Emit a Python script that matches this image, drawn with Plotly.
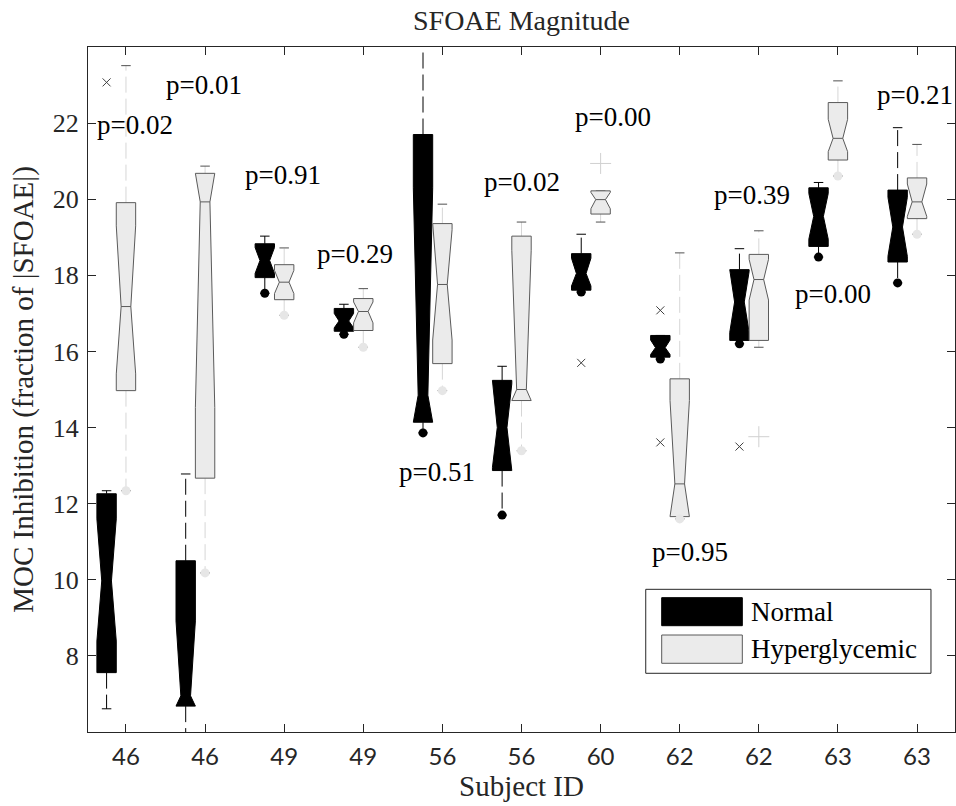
import plotly.graph_objects as go

# ---------------- data ----------------
subject_ids = ["46", "46", "49", "49", "56", "56", "60", "62", "62", "63", "63"]
positions = list(range(1, 12))

# Normal (black boxes)
normal_q1 = [7.56, 6.68, 17.94, 16.53, 14.14, 12.87, 17.61, 15.85, 16.29, 18.76, 18.35]
normal_med = [9.97, 6.95, 18.39, 16.80, 14.85, 14.00, 18.05, 16.10, 17.30, 19.55, 19.27]
normal_q3 = [12.26, 10.50, 18.83, 17.13, 21.70, 15.24, 18.57, 16.42, 18.15, 20.30, 20.24]
normal_notch_lo = [8.39, 6.68, 18.05, 16.62, 14.14, 12.95, 17.72, 15.92, 16.50, 18.95, 18.50]
normal_notch_hi = [11.60, 8.92, 18.73, 17.00, 20.30, 15.15, 18.45, 16.30, 18.10, 20.15, 20.05]
normal_whisk_lo = [6.61, 5.98, 17.53, 16.45, 13.86, 11.70, 17.56, 15.80, 16.20, 18.48, 17.80]
normal_whisk_hi = [12.34, 12.78, 19.03, 17.24, 24.60, 15.61, 19.08, 16.42, 18.70, 20.44, 21.88]
normal_dots = [None, 5.98, 17.53, 16.45, 13.86, 11.70, 17.56, 15.80, 16.20, 18.48, 17.80]
normal_outlier_pos = [1, 7, 8, 8, 9]
normal_outlier_val = [23.07, 15.70, 17.08, 13.61, 13.50]

# Hyperglycemic (light grey boxes)
hyper_q1 = [14.97, 12.67, 17.36, 16.55, 15.68, 14.71, 19.61, 11.66, 16.29, 21.03, 19.49]
hyper_med = [17.18, 19.93, 17.82, 17.05, 17.76, 15.00, 19.99, 12.52, 17.89, 21.60, 19.93]
hyper_q3 = [19.91, 20.68, 18.28, 17.39, 19.36, 19.03, 20.22, 15.28, 18.55, 22.54, 20.56]
hyper_notch_lo = [15.41, 14.53, 17.52, 16.75, 16.30, 14.71, 19.75, 11.66, 17.35, 21.25, 19.55]
hyper_notch_hi = [19.30, 20.68, 18.13, 17.30, 19.20, 18.66, 20.18, 14.71, 18.42, 22.10, 20.40]
hyper_whisk_lo = [12.34, 10.18, 16.95, 16.11, 14.97, 13.39, 19.40, 11.60, 16.11, 20.61, 19.08]
hyper_whisk_hi = [23.51, 20.87, 18.72, 17.65, 19.87, 19.40, 20.22, 18.59, 19.17, 23.11, 21.44]
hyper_dots = [12.34, 10.18, 16.95, 16.11, 14.97, 13.39, None, 11.60, None, 20.61, 19.08]
hyper_outlier_pos = [7, 9]
hyper_outlier_val = [20.94, 13.76]

# p-value labels
pval_text = ["p=0.02", "p=0.01", "p=0.91", "p=0.29", "p=0.51", "p=0.02",
             "p=0.00", "p=0.95", "p=0.39", "p=0.00", "p=0.21"]
pval_y = [21.95, 23.0, 20.63, 18.57, 12.82, 20.46, 22.17, 10.72, 20.1, 17.5, 22.74]
pval_x = [1.11, 1.99, 2.98, 3.90, 4.93, 6.0, 7.16, 8.13, 8.92, 9.94, 10.98]

# ---------------- style ----------------
SERIF = "Liberation Serif"
BOX_W = 0.245
NORMAL_OFFSET = -0.245
CAP_HW = 0.06
DARK = "#262626"
FIG_W, FIG_H = 956, 806

normal_x = [p + NORMAL_OFFSET for p in positions]
hyper_x = list(positions)


def box_polygons(centers, q1, nlo, med, nhi, q3):
    h, hn = BOX_W / 2, BOX_W / 4
    xs, ys = [], []
    for c, a, b, m, d, e in zip(centers, q1, nlo, med, nhi, q3):
        xs += [c - h, c - h, c - hn, c - h, c - h, c + h, c + h, c + hn, c + h, c + h, c - h, None]
        ys += [a, b, m, d, e, e, d, m, b, a, a, None]
    return xs, ys


def whisker_lines(centers, q1, q3, wlo, whi):
    xs, ys = [], []
    for c, a, e, lo, hi in zip(centers, q1, q3, wlo, whi):
        xs += [c, c, None, c, c, None]
        ys += [a, lo, None, e, hi, None]
    return xs, ys


def cap_lines(centers, wlo, whi):
    xs, ys = [], []
    for c, lo, hi in zip(centers, wlo, whi):
        xs += [c - CAP_HW, c + CAP_HW, None, c - CAP_HW, c + CAP_HW, None]
        ys += [lo, lo, None, hi, hi, None]
    return xs, ys


def median_lines(centers, med):
    hn = BOX_W / 4
    xs, ys = [], []
    for c, m in zip(centers, med):
        xs += [c - hn, c + hn, None]
        ys += [m, m, None]
    return xs, ys


fig = go.Figure()

# whiskers (dashed)
wx, wy = whisker_lines(hyper_x, hyper_q1, hyper_q3, hyper_whisk_lo, hyper_whisk_hi)
fig.add_trace(go.Scatter(x=wx, y=wy, mode="lines", name="Hyperglycemic whiskers",
                         line=dict(color="#d6d6d6", width=1, dash="16px,6px"),
                         showlegend=False, hoverinfo="skip"))
wx, wy = whisker_lines(normal_x, normal_q1, normal_q3, normal_whisk_lo, normal_whisk_hi)
fig.add_trace(go.Scatter(x=wx, y=wy, mode="lines", name="Normal whiskers",
                         line=dict(color="black", width=1, dash="16px,6px"),
                         showlegend=False, hoverinfo="skip"))

# caps
cx, cy = cap_lines(hyper_x, hyper_whisk_lo, hyper_whisk_hi)
fig.add_trace(go.Scatter(x=cx, y=cy, mode="lines", line=dict(color="#505050", width=1),
                         showlegend=False, hoverinfo="skip"))
cx, cy = cap_lines(normal_x, normal_whisk_lo, normal_whisk_hi)
fig.add_trace(go.Scatter(x=cx, y=cy, mode="lines", line=dict(color="black", width=1),
                         showlegend=False, hoverinfo="skip"))

# boxes
bx, by = box_polygons(normal_x, normal_q1, normal_notch_lo, normal_med, normal_notch_hi, normal_q3)
fig.add_trace(go.Scatter(x=bx, y=by, mode="lines", fill="toself", fillcolor="black",
                         line=dict(color="black", width=1), name="Normal", showlegend=False))
bx, by = box_polygons(hyper_x, hyper_q1, hyper_notch_lo, hyper_med, hyper_notch_hi, hyper_q3)
fig.add_trace(go.Scatter(x=bx, y=by, mode="lines", fill="toself", fillcolor="#ebebeb",
                         line=dict(color="#5a5a5a", width=1), name="Hyperglycemic", showlegend=False))

# medians
mx, my = median_lines(hyper_x, hyper_med)
fig.add_trace(go.Scatter(x=mx, y=my, mode="lines", line=dict(color="#5a5a5a", width=1),
                         showlegend=False, hoverinfo="skip"))

# dots
fig.add_trace(go.Scatter(x=hyper_x, y=hyper_dots, mode="markers", cliponaxis=False,
                         marker=dict(color="#e6e6e6", size=9), showlegend=False))
fig.add_trace(go.Scatter(x=normal_x, y=normal_dots, mode="markers", cliponaxis=False,
                         marker=dict(color="black", size=9), showlegend=False))

# outliers
fig.add_trace(go.Scatter(x=[p + NORMAL_OFFSET for p in normal_outlier_pos], y=normal_outlier_val,
                         mode="markers", marker=dict(symbol="x-thin", size=8,
                                                     line=dict(color="#404040", width=1)),
                         showlegend=False))
fig.add_trace(go.Scatter(x=hyper_outlier_pos, y=hyper_outlier_val,
                         mode="markers", marker=dict(symbol="cross-thin", size=15,
                                                     line=dict(color="#d0d0d0", width=1)),
                         showlegend=False))

# p-value annotations
annotations = []
for t, xv, yv in zip(pval_text, pval_x, pval_y):
    annotations.append(dict(x=xv, y=yv, xref="x", yref="y", text=t, showarrow=False,
                            xanchor="center", yanchor="middle",
                            font=dict(family=SERIF, size=27, color="black")))

# legend (drawn)
shapes = [
    dict(type="rect", xref="paper", yref="paper", x0=0.6433, x1=0.9723, y0=0.0857, y1=0.2083,
         line=dict(color=DARK, width=1), fillcolor="white", layer="above"),
    dict(type="rect", xref="paper", yref="paper", x0=0.6617, x1=0.7547, y0=0.1552, y1=0.1961,
         line=dict(color="black", width=1), fillcolor="black", layer="above"),
    dict(type="rect", xref="paper", yref="paper", x0=0.6617, x1=0.7547, y0=0.1003, y1=0.1416,
         line=dict(color="#5a5a5a", width=1), fillcolor="#ebebeb", layer="above"),
]
annotations += [
    dict(x=0.7624, y=0.1756, xref="paper", yref="paper", text="Normal", showarrow=False,
         xanchor="left", yanchor="middle", font=dict(family=SERIF, size=27, color="black")),
    dict(x=0.7624, y=0.1212, xref="paper", yref="paper", text="Hyperglycemic", showarrow=False,
         xanchor="left", yanchor="middle", font=dict(family=SERIF, size=27, color="black")),
]

fig.update_layout(
    width=FIG_W, height=FIG_H,
    margin=dict(l=88, r=1, t=47, b=74, autoexpand=False),
    paper_bgcolor="white", plot_bgcolor="white",
    title=dict(text="SFOAE Magnitude", x=0.5, xref="paper", xanchor="center",
               y=1 - 20 / FIG_H, yanchor="middle",
               font=dict(family=SERIF, size=28, color=DARK)),
    shapes=shapes,
    annotations=annotations,
    showlegend=False,
)

fig.update_xaxes(
    range=[0.52, 11.48], tickmode="array", tickvals=positions, ticktext=subject_ids,
    ticks="inside", ticklen=8, tickcolor=DARK, showline=True, linecolor=DARK, linewidth=1,
    mirror="ticks", showgrid=False, zeroline=False, automargin=False,
    tickfont=dict(family="Lato", size=24, color=DARK), ticklabelstandoff=3,
    title=dict(text="Subject ID", font=dict(family=SERIF, size=29, color=DARK), standoff=5),
)
fig.update_yaxes(
    range=[6, 24], tickmode="array", tickvals=[8, 10, 12, 14, 16, 18, 20, 22],
    ticks="inside", ticklen=8, tickcolor=DARK, showline=True, linecolor=DARK, linewidth=1,
    mirror="ticks", showgrid=False, zeroline=False, automargin=False,
    tickfont=dict(family=SERIF, size=26, color=DARK), ticklabelstandoff=3,
    title=dict(text="MOC Inhibition (fraction of |SFOAE|)",
               font=dict(family=SERIF, size=29, color=DARK), standoff=10),
)

# the page's default 8px body margin would push the 956x806 figure out of the window
fig.write_html(
    "out.html",
    config={"displayModeBar": False},
    post_script="document.body.style.margin='0';"
                "document.body.style.overflow='hidden';"
                "document.documentElement.style.overflow='hidden';",
)
